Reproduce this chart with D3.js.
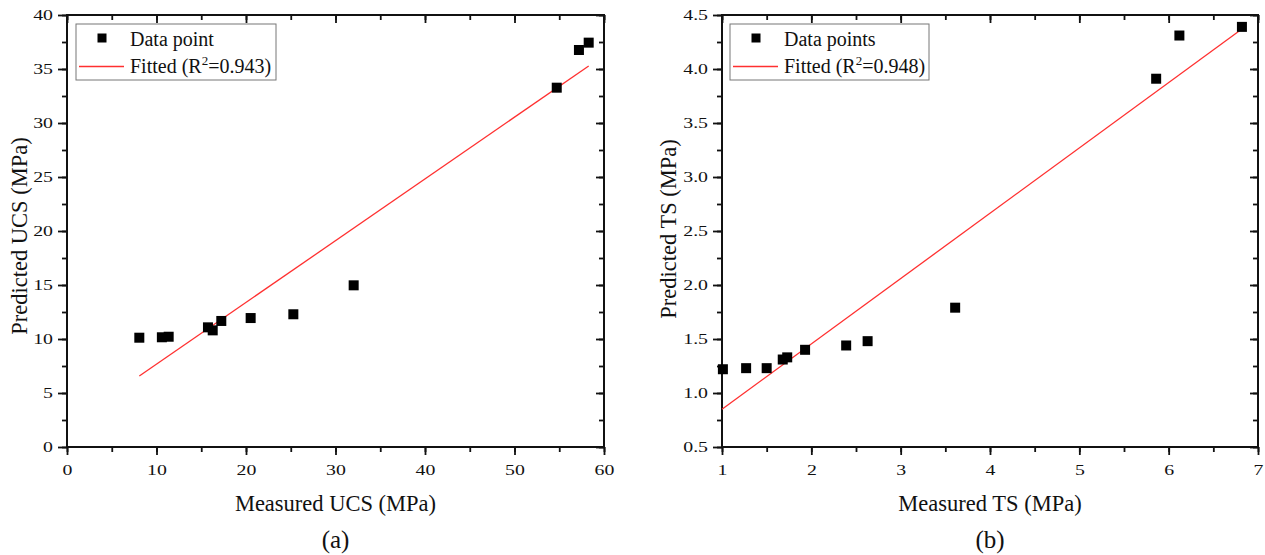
<!DOCTYPE html>
<html>
<head>
<meta charset="utf-8">
<script src="https://cdn.jsdelivr.net/npm/d3@7"></script>
<style>
  body { margin: 0; background: #fff; }
  svg text { font-family: "Liberation Serif", "Times New Roman", serif; fill: #111; }
</style>
</head>
<body>
<svg id="chart" width="1265" height="555"></svg>
<script>
//// data
var ucsMeasured  = [8.08, 10.6, 11.36, 15.75, 16.28, 17.24, 20.52, 25.29, 32.03, 54.72, 57.2, 58.29];
var ucsPredicted = [10.12, 10.16, 10.21, 11.08, 10.8, 11.67, 11.94, 12.29, 14.97, 33.27, 36.76, 37.44];
var ucsFit = [[8.08, 6.57], [58.29, 35.28]];

var tsMeasured  = [1.01, 1.27, 1.5, 1.68, 1.73, 1.93, 2.39, 2.63, 3.61, 5.86, 6.12, 6.82];
var tsPredicted = [1.22, 1.23, 1.23, 1.31, 1.33, 1.4, 1.44, 1.48, 1.79, 3.91, 4.31, 4.39];
var tsFit = [[1.0, 0.85], [6.82, 4.37]];

var ucsXTicks = [0, 10, 20, 30, 40, 50, 60];
var ucsYTicks = [0, 5, 10, 15, 20, 25, 30, 35, 40];
var tsXTicks = [1, 2, 3, 4, 5, 6, 7];
var tsYTicks = [0.5, 1.0, 1.5, 2.0, 2.5, 3.0, 3.5, 4.0, 4.5];

var svg = d3.select("svg#chart");
var top_ = 15, bottom = 447;

var panels = [
  { left: 67, right: 604, xs: ucsMeasured, ys: ucsPredicted, fit: ucsFit,
    xDom: [0, 60], yDom: [0, 40], xTicks: ucsXTicks, yTicks: ucsYTicks,
    xMinor: 5, yMinor: 2.5, xFmt: d3.format("d"), yFmt: d3.format("d"),
    xTitle: "Measured UCS (MPa)", yTitle: "Predicted UCS (MPa)", tag: "(a)",
    legendPt: "Data point", r2: "0.943", legend: { x: 76, y: 24, w: 200 },
    yTitleX: 27, yTitleY: 236 },
  { left: 722, right: 1258, xs: tsMeasured, ys: tsPredicted, fit: tsFit,
    xDom: [1, 7], yDom: [0.5, 4.5], xTicks: tsXTicks, yTicks: tsYTicks,
    xMinor: 0.5, yMinor: 0.25, xFmt: d3.format("d"), yFmt: d3.format(".1f"),
    xTitle: "Measured TS (MPa)", yTitle: "Predicted TS (MPa)", tag: "(b)",
    legendPt: "Data points", r2: "0.948", legend: { x: 730, y: 24, w: 199 },
    yTitleX: 676, yTitleY: 229 }
];

function minorTicks(dom, step) {
  var out = [];
  for (var v = dom[0]; v <= dom[1] + 1e-9; v += step) out.push(+v.toFixed(4));
  return out;
}

function styleAxis(g) {
  g.select(".domain").remove();
  g.selectAll("line").attr("stroke", "#111").attr("stroke-width", 1.8);
  // tick numbers in the picture are wide and short, so stretch them sideways
  g.selectAll("text").style("font-size", "15px").each(function() {
    var len = this.getComputedTextLength();
    d3.select(this).attr("textLength", len * 1.32).attr("lengthAdjust", "spacingAndGlyphs");
  });
}

panels.forEach(function(p) {
  var x = d3.scaleLinear().domain(p.xDom).range([p.left, p.right]);
  var y = d3.scaleLinear().domain(p.yDom).range([bottom, top_]);
  var g = svg.append("g");

  var xm = minorTicks(p.xDom, p.xMinor), ym = minorTicks(p.yDom, p.yMinor);

  // minor ticks
  g.append("g").attr("transform", "translate(0," + bottom + ")")
    .call(d3.axisBottom(x).tickValues(xm).tickSize(5).tickFormat("")).call(styleAxis);
  g.append("g").attr("transform", "translate(0," + top_ + ")")
    .call(d3.axisTop(x).tickValues(xm).tickSize(-5).tickFormat("")).call(styleAxis);
  g.append("g").attr("transform", "translate(" + p.left + ",0)")
    .call(d3.axisLeft(y).tickValues(ym).tickSize(5).tickFormat("")).call(styleAxis);
  g.append("g").attr("transform", "translate(" + p.right + ",0)")
    .call(d3.axisRight(y).tickValues(ym).tickSize(-5).tickFormat("")).call(styleAxis);

  // major ticks with labels
  g.append("g").attr("transform", "translate(0," + bottom + ")")
    .call(d3.axisBottom(x).tickValues(p.xTicks).tickSize(8).tickPadding(9).tickFormat(p.xFmt)).call(styleAxis);
  g.append("g").attr("transform", "translate(0," + top_ + ")")
    .call(d3.axisTop(x).tickValues(p.xTicks).tickSize(-8).tickFormat("")).call(styleAxis);
  g.append("g").attr("transform", "translate(" + p.left + ",0)")
    .call(d3.axisLeft(y).tickValues(p.yTicks).tickSize(9).tickPadding(5).tickFormat(p.yFmt)).call(styleAxis);
  g.append("g").attr("transform", "translate(" + p.right + ",0)")
    .call(d3.axisRight(y).tickValues(p.yTicks).tickSize(-8).tickFormat("")).call(styleAxis);

  // frame
  g.append("rect")
    .attr("x", p.left).attr("y", top_)
    .attr("width", p.right - p.left).attr("height", bottom - top_)
    .attr("fill", "none").attr("stroke", "#111").attr("stroke-width", 2);

  // fitted line
  g.append("line")
    .attr("x1", x(p.fit[0][0])).attr("y1", y(p.fit[0][1]))
    .attr("x2", x(p.fit[1][0])).attr("y2", y(p.fit[1][1]))
    .attr("stroke", "#ff3030").attr("stroke-width", 1.3);

  // points
  var pts = p.xs.map(function(v, i) { return { x: v, y: p.ys[i] }; });
  g.selectAll("rect.pt").data(pts).enter().append("rect")
    .attr("class", "pt")
    .attr("x", function(d) { return x(d.x) - 5; })
    .attr("y", function(d) { return y(d.y) - 5; })
    .attr("width", 10).attr("height", 10)
    .attr("fill", "#000");

  // legend
  var L = p.legend;
  var lg = g.append("g").attr("transform", "translate(" + L.x + "," + L.y + ")");
  lg.append("rect").attr("width", L.w).attr("height", 56)
    .attr("fill", "#fff").attr("stroke", "#777").attr("stroke-width", 1);
  lg.append("rect").attr("x", 21.5).attr("y", 9.5).attr("width", 9).attr("height", 9).attr("fill", "#000");
  lg.append("text").attr("x", 54).attr("y", 21.5).style("font-size", "20px").text(p.legendPt);
  lg.append("line").attr("x1", 3).attr("x2", 48).attr("y1", 42.5).attr("y2", 42.5)
    .attr("stroke", "#ff3030").attr("stroke-width", 1.3);
  var ft = lg.append("text").attr("x", 54).attr("y", 48.5).style("font-size", "20px");
  ft.append("tspan").text("Fitted (R");
  ft.append("tspan").attr("dy", -8).style("font-size", "13px").text("2");
  ft.append("tspan").attr("dy", 8).text("=" + p.r2 + ")");

  // titles
  var cx = (p.left + p.right) / 2;
  g.append("text").attr("x", cx).attr("y", 511).attr("text-anchor", "middle")
    .style("font-size", "22.5px").text(p.xTitle);
  g.append("text").attr("x", cx).attr("y", 548).attr("text-anchor", "middle")
    .style("font-size", "25px").text(p.tag);
  g.append("text")
    .attr("transform", "translate(" + p.yTitleX + "," + p.yTitleY + ") rotate(-90)")
    .attr("text-anchor", "middle").style("font-size", "22.5px").text(p.yTitle);
});
</script>
</body>
</html>
